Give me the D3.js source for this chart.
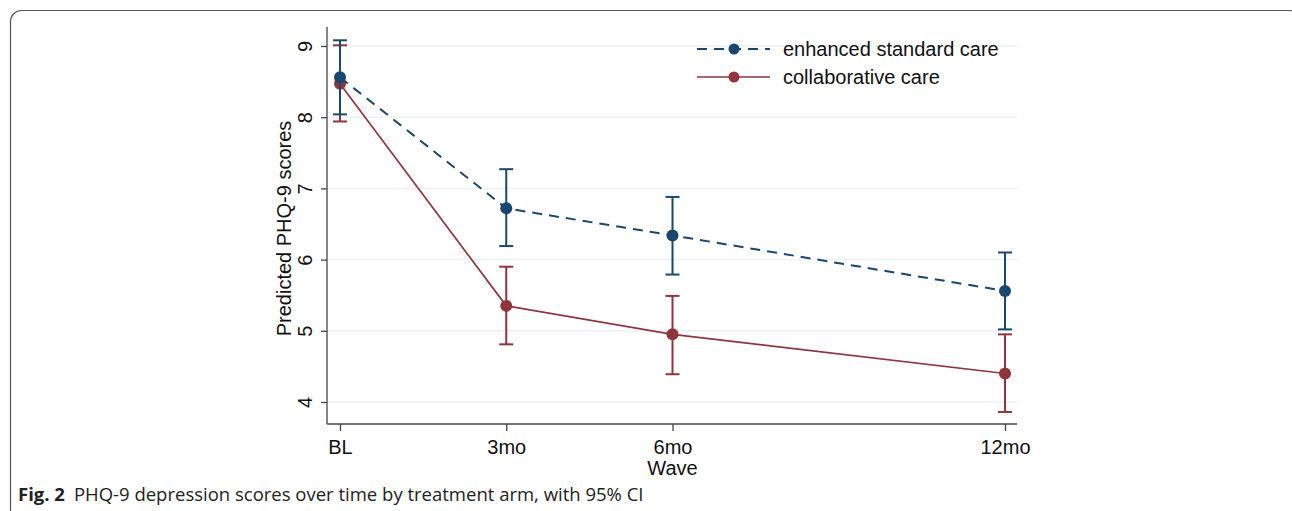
<!DOCTYPE html>
<html>
<head>
<meta charset="utf-8">
<script src="https://cdn.jsdelivr.net/npm/d3@7"></script>
<style>
  body { margin: 0; background: #fff; }
  svg { display: block; }
</style>
</head>
<body>
<div id="chart"></div>
<script>
// data
const waves = ["BL", "3mo", "6mo", "12mo"];
const months = [0, 3, 6, 12];
const yTicks = [4, 5, 6, 7, 8, 9];

const escMean = [8.56, 6.72, 6.34, 5.56];
const escLow = [8.04, 6.19, 5.79, 5.02];
const escHigh = [9.08, 7.27, 6.88, 6.10];

const ccMean = [8.47, 5.35, 4.95, 4.40];
const ccLow = [7.94, 4.81, 4.39, 3.86];
const ccHigh = [9.01, 5.90, 5.49, 4.95];

const W = 1292, H = 511;
const FONT = "Liberation Sans, Arial, sans-serif";
const svg = d3.select("#chart").append("svg")
  .attr("width", W)
  .attr("height", H);

// figure frame (rounded, runs off right/bottom)
svg.append("rect")
  .attr("x", 10.5).attr("y", 10.5)
  .attr("width", 1290).attr("height", 520)
  .attr("rx", 11)
  .attr("fill", "none")
  .attr("stroke", "#555")
  .attr("stroke-width", 1.2);

// plot region
const plotLeft = 327, plotRight = 1017, plotTop = 27, plotBottom = 424;

const x = d3.scaleLinear().domain([0, 12]).range([340, 1005]);
const y = d3.scaleLinear().domain([4, 9]).range([402, 46]);

// grid
svg.append("g")
  .selectAll("line")
  .data(yTicks)
  .join("line")
  .attr("x1", plotLeft).attr("x2", plotRight)
  .attr("y1", d => y(d)).attr("y2", d => y(d))
  .attr("stroke", "#eaf2f3")
  .attr("stroke-width", 1.5);

// Y axis
const yAxis = svg.append("g")
  .attr("transform", `translate(${plotLeft},0)`)
  .call(d3.axisLeft(y).tickValues(yTicks).tickSize(6).tickSizeOuter(0).tickFormat(d3.format("d")));
yAxis.select(".domain").attr("d", `M0,${plotTop}V${plotBottom}`).attr("stroke", "#444").attr("stroke-width", 1.3);
yAxis.selectAll(".tick line").attr("stroke", "#444").attr("stroke-width", 1.3);
yAxis.selectAll(".tick text")
  .attr("x", 0).attr("dy", 0)
  .attr("transform", "translate(-22,0) rotate(-90)")
  .attr("text-anchor", "middle")
  .attr("dominant-baseline", "central")
  .style("font-family", FONT)
  .style("font-size", "20px")
  .attr("fill", "#111");

// X axis
const xAxis = svg.append("g")
  .attr("transform", `translate(0,${plotBottom})`)
  .call(d3.axisBottom(x).tickValues(months).tickSize(7).tickSizeOuter(0)
    .tickFormat((d, i) => waves[i]));
xAxis.select(".domain").attr("d", `M${plotLeft},0H${plotRight}`).attr("stroke", "#444").attr("stroke-width", 1.3);
xAxis.selectAll(".tick line").attr("stroke", "#444").attr("stroke-width", 1.3);
xAxis.selectAll(".tick text")
  .attr("y", 15.5)
  .style("font-family", FONT)
  .style("font-size", "20px")
  .attr("fill", "#111");

// axis titles
svg.append("text")
  .attr("transform", `translate(284,${(plotTop + plotBottom) / 2 + 3}) rotate(-90)`)
  .attr("text-anchor", "middle")
  .attr("dominant-baseline", "central")
  .style("font-family", FONT)
  .style("font-size", "20px")
  .attr("fill", "#111")
  .text("Predicted PHQ-9 scores");

svg.append("text")
  .attr("x", x(6)).attr("y", 475)
  .attr("text-anchor", "middle")
  .style("font-family", FONT)
  .style("font-size", "20px")
  .attr("fill", "#111")
  .text("Wave");

const series = [
  { name: "enhanced standard care", mean: escMean, low: escLow, high: escHigh, color: "#1a476f", dash: "10,7", width: 2 },
  { name: "collaborative care", mean: ccMean, low: ccLow, high: ccHigh, color: "#90353b", dash: null, width: 1.7 }
];

const line = d3.line()
  .x(d => x(d.m))
  .y(d => y(d.v));

// collaborative first so the enhanced marker sits on top at BL
series.slice().reverse().forEach(s => {
  const g = svg.append("g");
  const pts = months.map((m, i) => ({ m: m, v: s.mean[i], lo: s.low[i], hi: s.high[i] }));

  g.append("path")
    .datum(pts)
    .attr("d", line)
    .attr("fill", "none")
    .attr("stroke", s.color)
    .attr("stroke-width", s.width)
    .attr("stroke-dasharray", s.dash);

  // CI bars
  g.selectAll(".ci")
    .data(pts)
    .join("line")
    .attr("class", "ci")
    .attr("x1", d => x(d.m)).attr("x2", d => x(d.m))
    .attr("y1", d => y(d.lo)).attr("y2", d => y(d.hi))
    .attr("stroke", s.color).attr("stroke-width", 2);

  g.selectAll(".capT")
    .data(pts)
    .join("line")
    .attr("class", "capT")
    .attr("x1", d => x(d.m) - 7).attr("x2", d => x(d.m) + 7)
    .attr("y1", d => y(d.hi)).attr("y2", d => y(d.hi))
    .attr("stroke", s.color).attr("stroke-width", 2);

  g.selectAll(".capB")
    .data(pts)
    .join("line")
    .attr("class", "capB")
    .attr("x1", d => x(d.m) - 7).attr("x2", d => x(d.m) + 7)
    .attr("y1", d => y(d.lo)).attr("y2", d => y(d.lo))
    .attr("stroke", s.color).attr("stroke-width", 2);

  g.selectAll("circle")
    .data(pts)
    .join("circle")
    .attr("cx", d => x(d.m)).attr("cy", d => y(d.v))
    .attr("r", 6)
    .attr("fill", s.color);
});

// legend
const legend = svg.append("g");
series.forEach((s, i) => {
  const ly = 49 + i * 28;
  legend.append("line")
    .attr("x1", 697).attr("x2", 770)
    .attr("y1", ly).attr("y2", ly)
    .attr("stroke", s.color)
    .attr("stroke-width", s.width)
    .attr("stroke-dasharray", s.dash);
  legend.append("circle")
    .attr("cx", 734).attr("cy", ly).attr("r", 5.5)
    .attr("fill", s.color);
  legend.append("text")
    .attr("x", 783).attr("y", ly)
    .attr("dominant-baseline", "central")
    .style("font-family", FONT)
    .style("font-size", "20px")
    .attr("fill", "#111")
    .text(s.name);
});

// caption
const cap = svg.append("text")
  .attr("x", 18).attr("y", 501)
  .style("font-family", "Open Sans, Noto Sans, sans-serif")
  .style("font-size", "18.5px")
  .attr("fill", "#222");
cap.append("tspan").style("font-weight", "bold").text("Fig. 2");
cap.append("tspan").attr("dx", 9).text("PHQ-9 depression scores over time by treatment arm, with 95% CI");
</script>
</body>
</html>
